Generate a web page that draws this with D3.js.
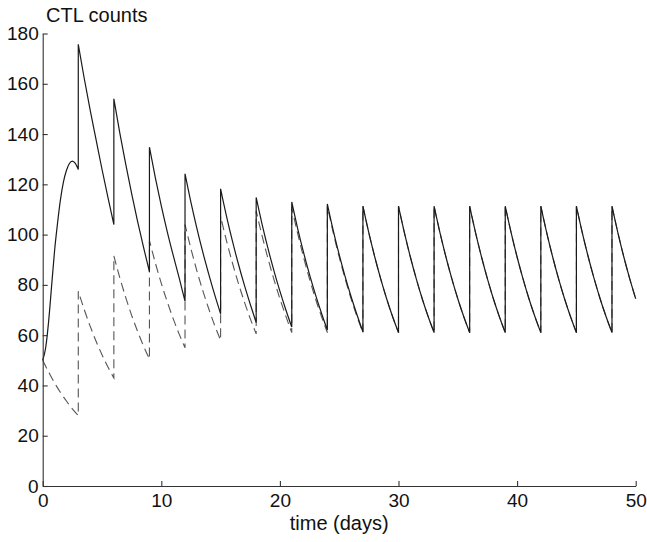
<!DOCTYPE html>
<html>
<head>
<meta charset="utf-8">
<script src="https://cdn.jsdelivr.net/npm/d3@7"></script>
<style>
  body { margin: 0; background: #fff; }
  svg { display: block; font-family: "Liberation Sans", Arial, Helvetica, sans-serif; }
</style>
</head>
<body>
<div id="chart"></div>
<script>
// data
const riseDays = [0, 0.25, 0.5, 0.75, 1, 1.25, 1.5, 1.75, 2, 2.25, 2.5, 2.75, 3]
const riseSolid = [50, 55, 65.5, 79.5, 93.5, 104.5, 114, 121, 125.5, 128.3, 129.2, 128.3, 125.9]

const pulseOffsets = [0, 0.5, 1, 1.5, 2, 2.5, 3]

// solid curve, one row per pulse starting at day 3, 6, ... 48
const solidStarts = [3, 6, 9, 12, 15, 18, 21, 24, 27, 30, 33, 36, 39, 42, 45, 48]
const solidPulses = [
  [175.7, 162.2, 149.6, 137.8, 126.0, 114.8, 104.0],
  [154.0, 140.5, 128.0, 116.3, 105.3, 95.0, 85.2],
  [134.8, 122.6, 111.4, 101.2, 91.8, 82.9, 73.5],
  [124.2, 112.8, 102.5, 93.0, 84.3, 76.1, 68.5],
  [118.2, 107.3, 97.4, 88.3, 80.0, 72.3, 65.0],
  [114.8, 104.1, 94.4, 85.6, 77.5, 70.1, 63.2],
  [113.0, 102.4, 92.8, 84.1, 76.1, 68.8, 62.0],
  [112.2, 101.6, 92.0, 83.3, 75.4, 68.1, 61.3],
  [111.3, 100.7, 91.1, 82.4, 74.5, 67.4, 61.0],
  [111.3, 100.7, 91.1, 82.4, 74.5, 67.4, 61.0],
  [111.3, 100.7, 91.1, 82.4, 74.5, 67.4, 61.0],
  [111.3, 100.7, 91.1, 82.4, 74.5, 67.4, 61.0],
  [111.3, 100.7, 91.1, 82.4, 74.5, 67.4, 61.0],
  [111.3, 100.7, 91.1, 82.4, 74.5, 67.4, 61.0],
  [111.3, 100.7, 91.1, 82.4, 74.5, 67.4, 61.0],
  [111.3, 100.7, 91.1, 82.4, 74.5]
]

// dashed curve, pulses starting at day 0, 3, ... 48
const dashedStarts = [0, 3, 6, 9, 12, 15, 18, 21, 24, 27, 30, 33, 36, 39, 42, 45, 48]
const dashedPulses = [
  [50.0, 45.3, 41.0, 37.2, 33.8, 30.7, 28.0],
  [77.5, 70.2, 63.6, 57.6, 52.2, 47.3, 43.0],
  [91.5, 82.9, 75.0, 67.9, 61.5, 55.7, 50.5],
  [97.6, 88.7, 80.6, 73.3, 66.6, 60.5, 55.0],
  [104.0, 94.4, 85.6, 77.7, 70.5, 63.9, 58.0],
  [107.3, 97.5, 88.7, 80.6, 73.3, 66.6, 60.5],
  [109.5, 99.5, 90.4, 82.1, 74.5, 67.6, 61.0],
  [110.8, 100.4, 90.9, 82.3, 74.5, 67.5, 61.0],
  [111.3, 100.7, 91.1, 82.4, 74.5, 67.4, 61.0],
  [111.3, 100.7, 91.1, 82.4, 74.5, 67.4, 61.0],
  [111.3, 100.7, 91.1, 82.4, 74.5, 67.4, 61.0],
  [111.3, 100.7, 91.1, 82.4, 74.5, 67.4, 61.0],
  [111.3, 100.7, 91.1, 82.4, 74.5, 67.4, 61.0],
  [111.3, 100.7, 91.1, 82.4, 74.5, 67.4, 61.0],
  [111.3, 100.7, 91.1, 82.4, 74.5, 67.4, 61.0],
  [111.3, 100.7, 91.1, 82.4, 74.5, 67.4, 61.0],
  [111.3, 100.7, 91.1, 82.4, 74.5]
]

const xTicks = [0, 10, 20, 30, 40, 50]
const yTicks = [0, 20, 40, 60, 80, 100, 120, 140, 160, 180]

const width = 647,
      height = 542

const svg = d3.select("#chart").append("svg")
    .attr("width", width)
    .attr("height", height)

svg.append("rect").attr("width", width).attr("height", height).attr("fill", "#fff")

const x = d3.scaleLinear().domain([0, 50]).range([42.7, 635.7])
const y = d3.scaleLinear().domain([0, 180]).range([486, 33.5])

const line = d3.line()
    .x(d => x(d[0]))
    .y(d => y(d[1]))
    .curve(d3.curveMonotoneX)

// joins the pulses into one path, the jumps become vertical lines
function pulsePath(segments){
    return segments.map((pts, i) => {
        const p = line(pts)
        return i === 0 ? p : p.replace(/^M/, "L")
    }).join("")
}

const solidSegs = [riseDays.map((t, i) => [t, riseSolid[i]])]
solidStarts.forEach((s, i) => {
    solidSegs.push(solidPulses[i].map((v, j) => [s + pulseOffsets[j], v]))
})

const dashedSegs = dashedStarts.map((s, i) =>
    dashedPulses[i].map((v, j) => [s + pulseOffsets[j], v]))

svg.append("path")
    .attr("d", pulsePath(dashedSegs))
    .attr("fill", "none")
    .attr("stroke", "#555")
    .attr("stroke-width", 1.1)
    .attr("stroke-dasharray", "9,5")

svg.append("path")
    .attr("d", pulsePath(solidSegs))
    .attr("fill", "none")
    .attr("stroke", "#1a1a1a")
    .attr("stroke-width", 1.2)

// axes, ticks point inwards
const xAxis = svg.append("g")
    .attr("transform", "translate(0," + y(0) + ")")
    .call(d3.axisBottom(x).tickValues(xTicks).tickSizeInner(-5).tickSizeOuter(0).tickPadding(8))

const yAxis = svg.append("g")
    .attr("transform", "translate(" + x(0) + ",0)")
    .call(d3.axisLeft(y).tickValues(yTicks).tickSizeInner(-5).tickSizeOuter(0).tickPadding(4))

svg.selectAll(".tick text")
    .attr("font-size", 19)
    .attr("font-family", "Liberation Sans, Arial, sans-serif")
    .attr("fill", "#111")
svg.selectAll(".domain, .tick line").attr("stroke", "#333").attr("stroke-width", 1.1)

svg.append("text")
    .attr("x", 46)
    .attr("y", 22)
    .attr("font-size", 20)
    .attr("fill", "#111")
    .text("CTL counts")

svg.append("text")
    .attr("x", x(25))
    .attr("y", 530)
    .attr("text-anchor", "middle")
    .attr("font-size", 20)
    .attr("fill", "#111")
    .text("time (days)")
</script>
</body>
</html>
